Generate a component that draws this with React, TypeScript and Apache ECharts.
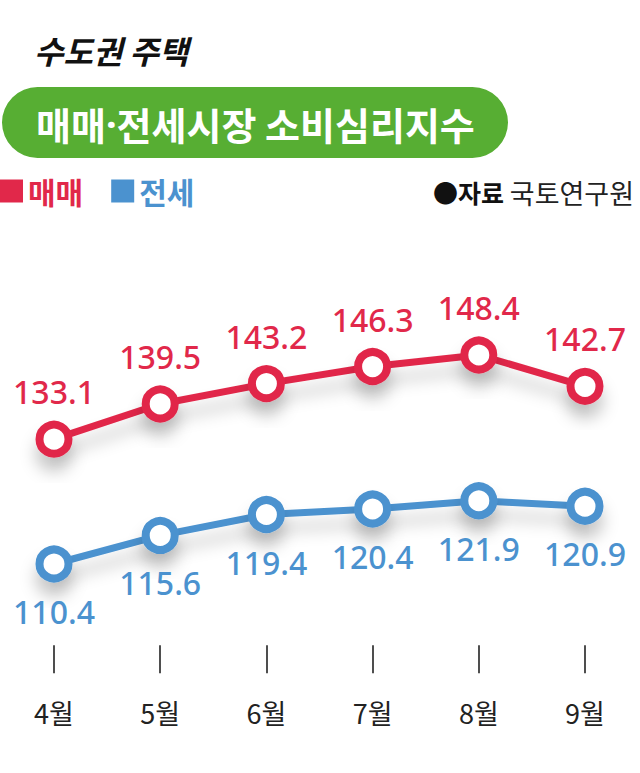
import React, { useEffect, useRef } from "react";
import * as echarts from "echarts";

const months = ["4월", "5월", "6월", "7월", "8월", "9월"];
const saleIndex = [133.1, 139.5, 143.2, 146.3, 148.4, 142.7];
const jeonseIndex = [110.4, 115.6, 119.4, 120.4, 121.9, 120.9];
const seriesNames = ["매매", "전세"];

const RED = "#e1284a";
const BLUE = "#4b92cf";
const GREEN = "#57ae33";
const KR = "'Noto Sans CJK KR', 'Noto Sans', sans-serif";

export default function App() {
  const ref = useRef<HTMLDivElement>(null);
  useEffect(() => {
    document.body.style.margin = "0";
    if (!ref.current) return;
    const chart = echarts.init(ref.current, null, { renderer: "svg" });
    const shadow = {
      shadowColor: "rgba(0,0,0,0.22)",
      shadowBlur: 16,
      shadowOffsetY: 14,
    };
    const mkSeries = (name: string, data: number[], color: string, pos: string) => ({
      name,
      type: "line",
      data,
      color,
      symbol: "circle",
      symbolSize: 29,
      lineStyle: { width: 7, color, ...shadow },
      itemStyle: { color: "#ffffff", borderColor: color, borderWidth: 8, ...shadow },
      label: {
        show: true,
        position: pos,
        distance: 13,
        color,
        fontFamily: "'Noto Sans', sans-serif",
        fontWeight: 500,
        fontSize: 32,
        formatter: (p: any) => Number(p.value).toFixed(1),
      },
      emphasis: { disabled: true },
    });
    chart.setOption({
      animation: false,
      backgroundColor: "#ffffff",
      grid: { left: 54, right: 55, top: 291.2, bottom: 151.8 },
      legend: {
        left: 0,
        top: 176,
        padding: 0,
        icon: "rect",
        itemWidth: 23,
        itemHeight: 23,
        itemGap: 28,
        selectedMode: false,
        data: [
          {
            name: seriesNames[0],
            itemStyle: { color: RED, borderWidth: 0, shadowBlur: 0, shadowOffsetY: 0 },
            textStyle: { color: RED },
          },
          {
            name: seriesNames[1],
            itemStyle: { color: BLUE, borderWidth: 0, shadowBlur: 0, shadowOffsetY: 0 },
            textStyle: { color: BLUE },
          },
        ],
        textStyle: { fontFamily: KR, fontSize: 30, fontWeight: "bold" },
      },
      xAxis: {
        type: "category",
        data: months,
        boundaryGap: false,
        offset: 24,
        axisLine: { show: false },
        axisTick: {
          show: true,
          alignWithLabel: true,
          length: 28,
          lineStyle: { color: "#222", width: 1.6 },
        },
        axisLabel: {
          margin: 54,
          color: "#222",
          fontFamily: KR,
          fontSize: 27,
        },
        splitLine: { show: false },
      },
      yAxis: { type: "value", min: 100, max: 160, show: false },
      graphic: [
        {
          type: "text",
          left: 34,
          top: 34,
          style: {
            text: "수도권 주택",
            fontFamily: KR,
            fontSize: 32,
            fontWeight: "bold",
            fontStyle: "italic",
            fill: "#111",
          },
        },
        {
          type: "rect",
          shape: { x: 2, y: 87, width: 506, height: 71, r: 35.5 },
          style: { fill: GREEN },
        },
        {
          type: "text",
          x: 36,
          y: 123,
          style: {
            text: "{a|매매}{d|·}{a|전세시장 소비심리지수}",
            verticalAlign: "middle",
            fill: "#ffffff",
            rich: {
              a: { fontFamily: KR, fontSize: 38, fontWeight: "bold", fill: "#ffffff" },
              d: { fontFamily: "'Noto Sans', sans-serif", fontSize: 38, fontWeight: "bold", fill: "#ffffff" },
            },
          },
        },
        {
          type: "text",
          x: 504,
          y: 192,
          style: {
            text: "●자료",
            align: "right",
            verticalAlign: "middle",
            fontFamily: KR,
            fontSize: 25,
            fontWeight: "bold",
            fill: "#111",
          },
        },
        {
          type: "text",
          x: 634,
          y: 192,
          style: {
            text: "국토연구원",
            align: "right",
            verticalAlign: "middle",
            fontFamily: KR,
            fontSize: 27,
            fontWeight: "normal",
            fill: "#222",
          },
        },
      ],
      series: [
        mkSeries(seriesNames[0], saleIndex, RED, "top"),
        mkSeries(seriesNames[1], jeonseIndex, BLUE, "bottom"),
      ],
    });
    return () => chart.dispose();
  }, []);
  return (
    <div
      ref={ref}
      style={{ position: "absolute", left: 0, top: 0, width: 640, height: 773 }}
    />
  );
}
